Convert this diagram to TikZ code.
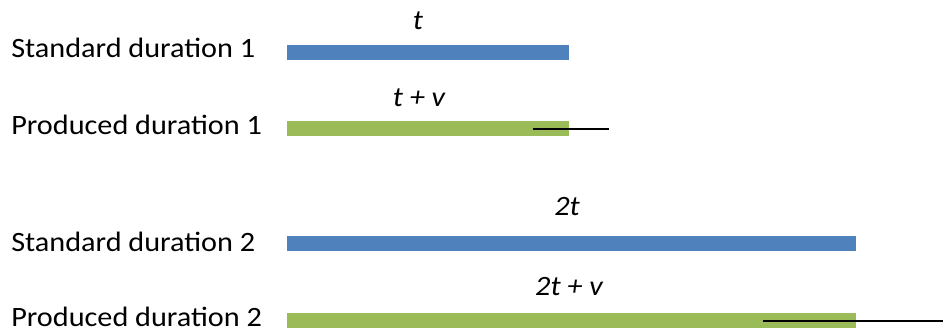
\documentclass[tikz,border=0pt]{standalone}
\usepackage{fontspec}
\setmainfont{Carlito}[FakeStretch=1.08]
\definecolor{barblue}{HTML}{4F81BD}
\definecolor{bargreen}{HTML}{9BBB59}
\begin{document}
\begin{tikzpicture}[x=0.75pt,y=-0.75pt,
  lab/.style={anchor=base west,inner sep=0pt,font=\fontsize{21pt}{24pt}\selectfont},
  val/.style={anchor=base,inner sep=0pt,font=\fontsize{21pt}{24pt}\selectfont\itshape},
  stdbar/.style={fill=barblue,draw=none},
  prodbar/.style={fill=bargreen,draw=none},
  err/.style={draw=black,line width=0.9pt}]
\useasboundingbox (0,0) rectangle (943,332);
% row 1
\node[lab] (s1) at (11,57) {Standard duration 1};
\fill[stdbar] (287,45) rectangle (569,60);
\node[val] (t1) at (418,29) {t};
\node[lab] (p1) at (11,134) {Produced duration 1};
\fill[prodbar] (287,121) rectangle (569,136);
\node[val] (tv1) at (419,106) {t + v};
\coordinate (e1a) at (533,129);
\coordinate (e1b) at (609,129);
\draw[err] (e1a) -- (e1b);
% row 2
\node[lab] (s2) at (11,251) {Standard duration 2};
\fill[stdbar] (287,236) rectangle (856,251);
\node[val] (t2) at (567,215) {2t};
\node[lab] (p2) at (11,326) {Produced duration 2};
\fill[prodbar] (287,313) rectangle (856,328);
\node[val] (tv2) at (569,295) {2t + v};
\coordinate (e2a) at (763,321);
\coordinate (e2b) at (943,321);
\draw[err] (e2a) -- (e2b);
\end{tikzpicture}
\end{document}
